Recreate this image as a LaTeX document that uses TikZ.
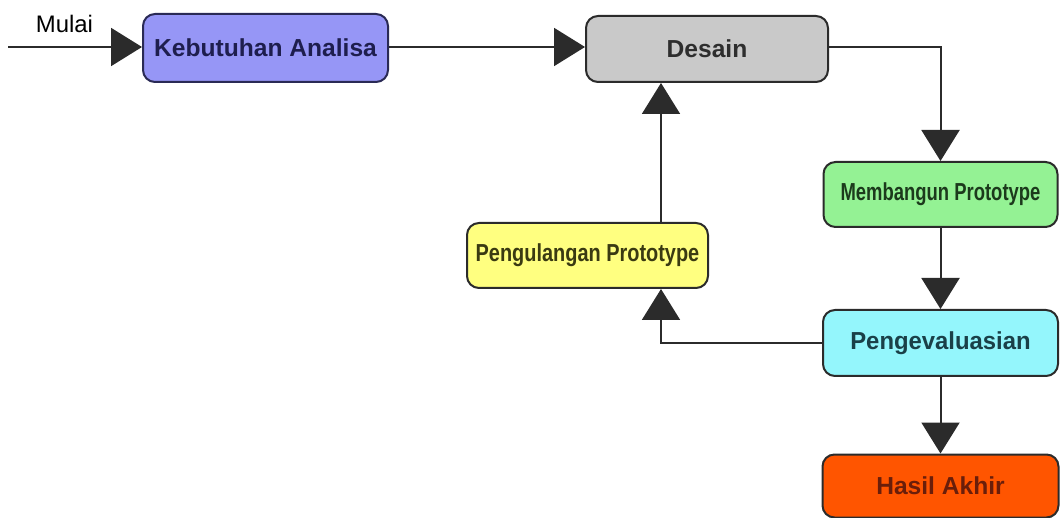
\documentclass[tikz,border=0pt]{standalone}
\usepackage{fontspec}
\usepackage{graphicx}
\setmainfont{Liberation Sans}
\usetikzlibrary{arrows.meta}

\definecolor{kafill}{HTML}{9696F6}
\definecolor{kaline}{HTML}{2A2A55}
\definecolor{katext}{HTML}{1E1E4E}
\definecolor{desfill}{HTML}{C9C9C9}
\definecolor{destext}{HTML}{2E2E2E}
\definecolor{memfill}{HTML}{94F294}
\definecolor{memtext}{HTML}{1C3A1C}
\definecolor{pengfill}{HTML}{FFFF80}
\definecolor{pengtext}{HTML}{3A3A12}
\definecolor{evalfill}{HTML}{94F6FC}
\definecolor{evaltext}{HTML}{1A4048}
\definecolor{hasilfill}{HTML}{FF5500}
\definecolor{hasiltext}{HTML}{6A1E0A}
\definecolor{inkline}{HTML}{2B2B2B}

\tikzset{
  stagebox/.style={rounded corners=12pt, draw=inkline, line width=2pt,
    inner sep=0pt, font=\fontsize{24.6}{28}\selectfont\bfseries},
  flow/.style={draw=inkline, line width=2pt,
    -{Triangle[length=31pt,width=38pt,fill=inkline]}},
}

\begin{document}
\begin{tikzpicture}[x=1pt,y=-1pt]
\useasboundingbox (0,0) rectangle (1060,518);

% process stages
\node[stagebox, fill=kafill, draw=kaline, text=katext,
  minimum width=245pt, minimum height=68pt] (ka) at (265.5,48) {Kebutuhan Analisa};
\node[stagebox, fill=desfill, text=destext,
  minimum width=242pt, minimum height=66pt] (des) at (707,49) {Desain};
\node[stagebox, fill=memfill, text=memtext,
  minimum width=234pt, minimum height=65pt] (mem) at (940.5,194.5)
  {\scalebox{0.75}[1]{Membangun Prototype}};
\node[stagebox, fill=pengfill, text=pengtext,
  minimum width=241pt, minimum height=65pt] (peng) at (587.5,255.5)
  {\scalebox{0.81}[1]{Pengulangan Prototype}};
\node[stagebox, fill=evalfill, text=evaltext,
  minimum width=235pt, minimum height=66pt] (eval) at (940.5,343)
  {\scalebox{0.97}[1]{Pengevaluasian}};
\node[stagebox, fill=hasilfill, text=hasiltext,
  minimum width=236pt, minimum height=63pt] (hasil) at (940.5,486) {Hasil Akhir};

% start label and loop column
\coordinate (start) at (8,47);
\coordinate (loopx) at (661,0);
\node[font=\fontsize{23.9}{26}\selectfont, text=black] (mulai) at (64.5,24) {Mulai};

% connectors
\draw[flow] (start) -- (start -| ka.west);
\draw[flow] (ka.east |- start) -- (des.west |- start);
\draw[flow] (des.east |- start) -| (mem.north);
\draw[flow] (mem.south) -- (eval.north);
\draw[flow] (eval.south) -- (hasil.north);
\draw[flow] (eval.west) -| (peng.south -| loopx);
\draw[flow] (peng.north -| loopx) -- (des.south -| loopx);
\end{tikzpicture}
\end{document}
